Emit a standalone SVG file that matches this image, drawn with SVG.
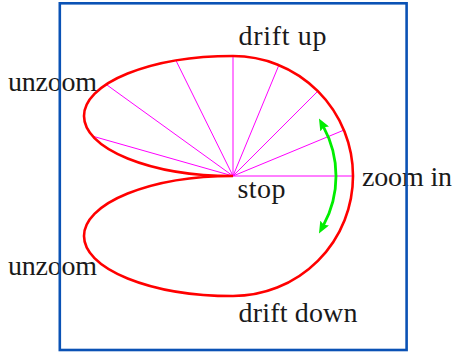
<svg xmlns="http://www.w3.org/2000/svg" width="453" height="352" viewBox="0 0 453 352">
  <style>
    .lbl { font-family: "Liberation Serif", "DejaVu Serif", serif; font-size: 28px; fill: #1a1a1a; }
    .spoke { stroke: #ff00ff; stroke-width: 1; fill: none; }
    .curve { stroke: #ff0000; stroke-width: 2.6; fill: none; stroke-linejoin: round; }
    .arrow { stroke: #00ee00; stroke-width: 2.8; fill: none; }
    .frame { stroke: #0a52b5; stroke-width: 2.6; fill: none; }
  </style>
  <defs>
    <marker id="ah" markerUnits="userSpaceOnUse" viewBox="0 0 12 10" refX="2.5" refY="5" markerWidth="12" markerHeight="10" orient="auto-start-reverse">
      <path d="M0,0 L12,5 L0,10 L2,5 Z" fill="#00ee00"/>
    </marker>
  </defs>
  <rect width="453" height="352" fill="#ffffff"/>
  <g id="spokes">
    <line class="spoke" x1="233" y1="176" x2="353" y2="176"/>
    <line class="spoke" x1="233" y1="176" x2="343.9" y2="130.1"/>
    <line class="spoke" x1="233" y1="176" x2="317.9" y2="91.1"/>
    <line class="spoke" x1="233" y1="176" x2="278.9" y2="65.1"/>
    <line class="spoke" x1="233" y1="176" x2="233" y2="56"/>
    <line class="spoke" x1="233" y1="176" x2="176" y2="60.6"/>
    <line class="spoke" x1="233" y1="176" x2="106.7" y2="84.8"/>
    <line class="spoke" x1="233" y1="176" x2="92.7" y2="136.2"/>
  </g>
  <g id="curve">
    <path class="curve" d="M233 176 A149 60 0 0 1 233 56 A120 120 0 0 1 233 296 A149 60 0 0 1 233 176"/>
  </g>
  <g id="connectors">
    <path class="arrow" d="M323.5 126.8 A103 103 0 0 1 323.5 225.2" marker-start="url(#ah)" marker-end="url(#ah)"/>
  </g>
  <g id="label-drift-up"><text class="lbl" x="238.5" y="45" textLength="88" lengthAdjust="spacing">drift up</text></g>
  <g id="label-unzoom-top"><text class="lbl" x="8" y="91" textLength="89" lengthAdjust="spacing">unzoom</text></g>
  <g id="label-zoom-in"><text class="lbl" x="362" y="186" textLength="90" lengthAdjust="spacing">zoom in</text></g>
  <g id="label-stop"><text class="lbl" x="237.5" y="198" textLength="48" lengthAdjust="spacing">stop</text></g>
  <g id="label-unzoom-bottom"><text class="lbl" x="8" y="275" textLength="89" lengthAdjust="spacing">unzoom</text></g>
  <g id="label-drift-down"><text class="lbl" x="238.5" y="322" textLength="119" lengthAdjust="spacing">drift down</text></g>
  <g id="frame">
    <rect class="frame" x="59.8" y="3.3" width="346.8" height="346.7"/>
  </g>
</svg>
